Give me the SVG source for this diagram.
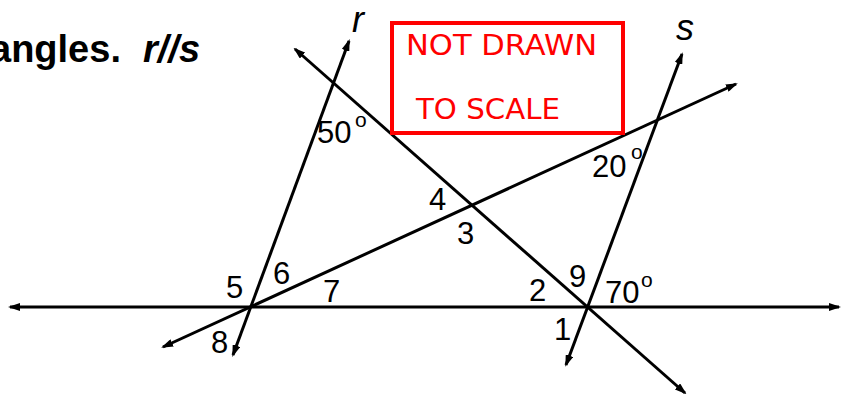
<svg xmlns="http://www.w3.org/2000/svg" width="843" height="398" viewBox="0 0 843 398">
<style>
.ln{stroke:#000;stroke-width:3;fill:none;marker-start:url(#ah);marker-end:url(#ah)}
.lb{font-family:"Liberation Sans",Arial,sans-serif;font-size:31px;fill:#000}
.sup{font-family:"Liberation Sans",Arial,sans-serif;font-size:21px;fill:#000}
.it{font-family:"Liberation Sans",Arial,sans-serif;font-size:36px;font-style:italic;fill:#000}
.ttl{font-family:"Liberation Sans",Arial,sans-serif;font-size:38px;font-weight:bold;fill:#000}
.red{font-family:"DejaVu Sans",sans-serif;font-size:28px;fill:#ff0000}
</style>
<defs>
<marker id="ah" viewBox="0 0 12 8" refX="10" refY="4" markerWidth="12" markerHeight="8" markerUnits="userSpaceOnUse" orient="auto-start-reverse">
<path d="M0,0 L12,4 L0,8 z" fill="#000"/>
</marker>
</defs>
<rect width="843" height="398" fill="#fff"/>
<g id="title">
<text class="ttl" x="-10" y="62">angles.</text>
<text class="ttl" x="143" y="62" font-style="italic">r//s</text>
</g>
<g id="connectors">
<line class="ln" x1="10" y1="307" x2="839" y2="307"/>
<line class="ln" x1="233" y1="355" x2="349" y2="41"/>
<line class="ln" x1="566" y1="365" x2="682" y2="54"/>
<line class="ln" x1="295" y1="49" x2="685" y2="393"/>
<line class="ln" x1="163" y1="347" x2="736" y2="84"/>
</g>
<g id="line-labels">
<text class="it" x="352" y="32">r</text>
<text class="it" x="676" y="40">s</text>
</g>
<g id="note">
<rect x="392" y="23" width="231" height="110" fill="none" stroke="#ff0000" stroke-width="4"/>
<text class="red" x="406" y="55" textLength="191" lengthAdjust="spacingAndGlyphs">NOT DRAWN</text>
<text class="red" x="416" y="119" textLength="144" lengthAdjust="spacingAndGlyphs">TO SCALE</text>
</g>
<g id="angle-labels">
<text class="lb" x="317" y="143">50</text><text class="sup" x="355" y="127">o</text>
<text class="lb" x="429" y="210">4</text>
<text class="lb" x="457" y="244">3</text>
<text class="lb" x="592" y="177">20</text><text class="sup" x="631" y="159">o</text>
<text class="lb" x="226" y="298">5</text>
<text class="lb" x="273" y="284">6</text>
<text class="lb" x="323" y="302">7</text>
<text class="lb" x="211" y="353">8</text>
<text class="lb" x="529" y="301">2</text>
<text class="lb" x="569" y="287">9</text>
<text class="lb" x="605" y="303">70</text><text class="sup" x="641" y="287">o</text>
<text class="lb" x="554" y="340">1</text>
</g>
</svg>
